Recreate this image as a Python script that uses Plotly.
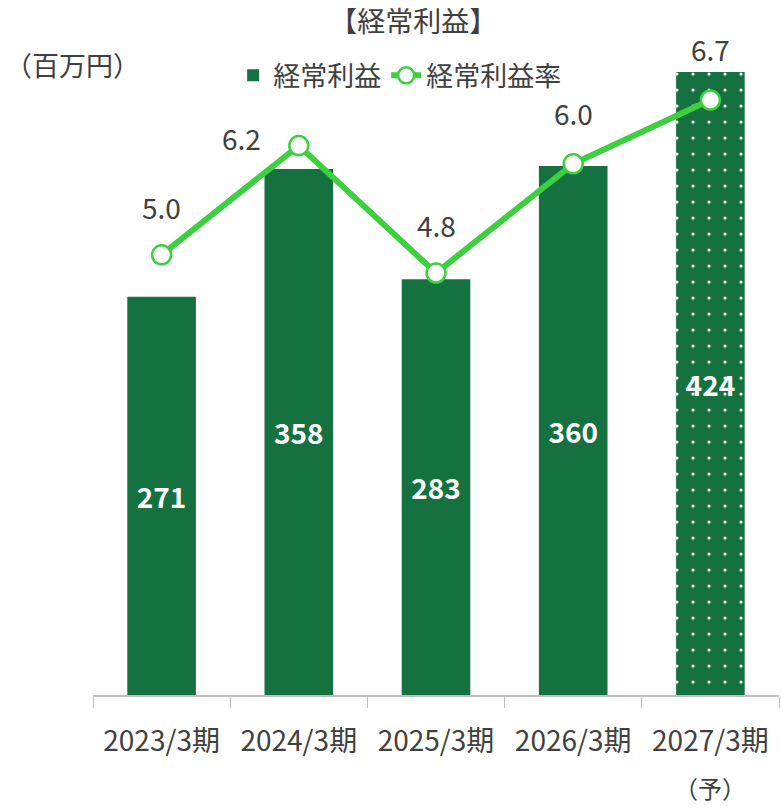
import plotly.graph_objects as go

categories = ["2023/3期", "2024/3期", "2025/3期", "2026/3期", "2027/3期"]
profit = [271, 358, 283, 360, 424]
margin_rate = [5.0, 6.2, 4.8, 6.0, 6.7]
rate_labels = ["5.0", "6.2", "4.8", "6.0", "6.7"]
forecast_note = "（予）"

BAR_COLOR = "#167140"
LINE_COLOR = "#3ccf3e"
TEXT_COLOR = "#404040"
FONT = "Noto Sans CJK JP"

label_xshift = [0, -57, 0, 0, 0]
label_yshift = [48, 8, 48, 51, 51]

fig = go.Figure()
fig.add_trace(go.Bar(
    x=categories, y=profit, name="経常利益",
    marker=dict(
        color=BAR_COLOR,
        line=dict(width=0),
        pattern=dict(shape=["", "", "", "", "."], fgcolor="white",
                     bgcolor=BAR_COLOR, size=16, solidity=0.03,
                     fillmode="replace"),
    ),
    width=0.5,
    text=[str(v) for v in profit], textposition="inside",
    insidetextanchor="middle", textangle=0,
    textfont=dict(family=FONT, size=28, color="white", weight="bold"),
    showlegend=True,
))
fig.add_trace(go.Scatter(
    x=categories, y=margin_rate, name="経常利益率", yaxis="y2",
    mode="lines+markers",
    line=dict(color=LINE_COLOR, width=6),
    marker=dict(size=19, color="white", line=dict(color=LINE_COLOR, width=2.5)),
))

annotations = []
for c, v, t, dx, dy in zip(categories, margin_rate, rate_labels, label_xshift, label_yshift):
    annotations.append(dict(x=c, y=v, xref="x", yref="y2", text=t, showarrow=False,
                            xshift=dx, yshift=dy,
                            font=dict(family=FONT, size=28, color=TEXT_COLOR)))
annotations.append(dict(x=categories[-1], y=-0.144, xref="x", yref="paper",
                        text=forecast_note, showarrow=False, yanchor="middle",
                        font=dict(family=FONT, size=24, color=TEXT_COLOR)))
annotations.append(dict(x=-0.131, y=0.977, xref="paper", yref="paper", text="（百万円）",
                        showarrow=False, xanchor="left", yanchor="middle",
                        font=dict(family=FONT, size=27, color=TEXT_COLOR)))

fig.update_layout(
    width=781, height=809,
    margin=dict(l=93, r=2, t=50, b=114),
    plot_bgcolor="white", paper_bgcolor="white",
    font=dict(family=FONT, color=TEXT_COLOR),
    title=dict(text="【経常利益】", x=0.467, xref="paper", xanchor="center",
               y=1 - 22 / 809, yanchor="middle",
               font=dict(family=FONT, size=28, color=TEXT_COLOR)),
    legend=dict(orientation="h", x=0.447, xanchor="center", y=0.96, yanchor="middle",
                font=dict(family=FONT, size=27, color=TEXT_COLOR),
                bgcolor="rgba(0,0,0,0)"),
    xaxis=dict(
        showline=True, linecolor="#bfbfbf", linewidth=1.5,
        ticks="outside", tickson="boundaries", ticklen=11, tickcolor="#bfbfbf",
        tickfont=dict(family=FONT, size=28, color=TEXT_COLOR),
        ticklabelstandoff=21,
        showgrid=False,
    ),
    yaxis=dict(range=[0, 439], visible=False, showgrid=False, zeroline=False),
    yaxis2=dict(range=[0.165, 7.25], overlaying="y", side="right", visible=False,
                showgrid=False, zeroline=False),
    annotations=annotations,
    bargap=0.5,
)

fig.write_html("out.html", config={"displayModeBar": False},
               post_script="document.body.style.margin='0';")
